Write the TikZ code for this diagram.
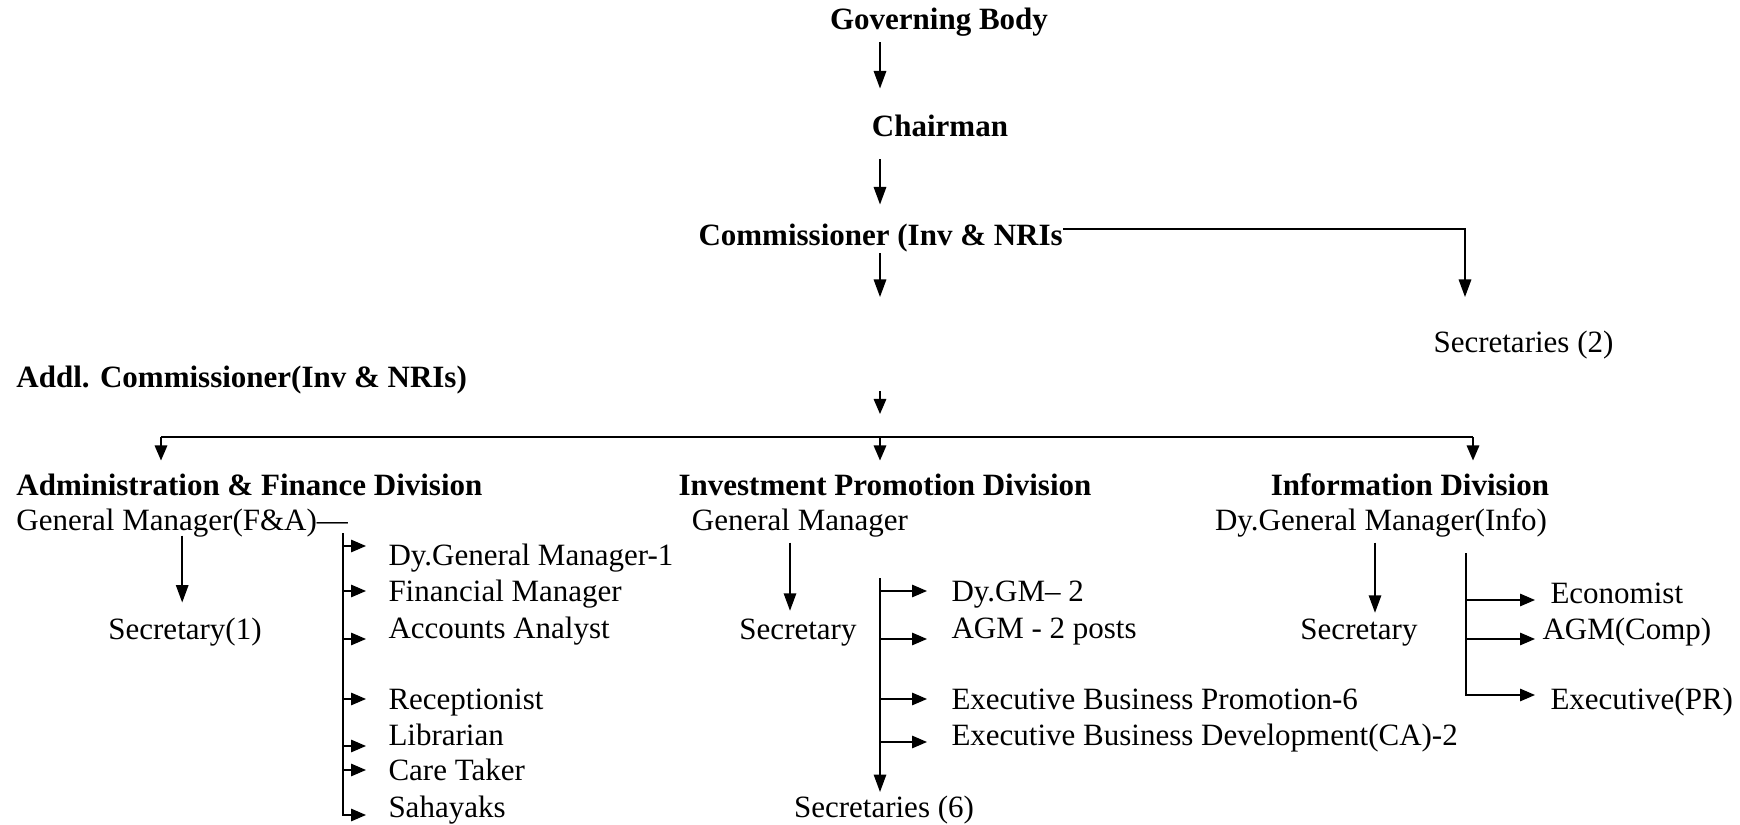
\documentclass[tikz,border=0pt]{standalone}
\usepackage{fontspec}
\setmainfont{Liberation Serif}
\usetikzlibrary{arrows.meta,positioning}

\tikzset{
  arr/.style={-{Triangle[length=7pt,width=5pt]}, line width=0.6pt},
  branch/.style={-{Triangle[length=6pt,width=5pt]}, line width=0.6pt},
  lbl/.style={inner sep=0pt, text height=9.5pt, text depth=1.5pt,
    font=\fontsize{12.4}{14}\selectfont},
  head/.style={lbl, font=\fontsize{12.4}{14}\selectfont\bfseries},
  item/.style={lbl, anchor=west},
}

\begin{document}
\begin{tikzpicture}[x=0.4pt, y=-0.4pt]
  \useasboundingbox (0,0) rectangle (1740,825);

  % top of the chart
  \node[head] (gb) at (939,20) {Governing Body};
  \node[head] (chair) at (940,127) {Chairman};
  \node[head, anchor=west] (comm) at (698,236) {Commissioner (Inv \& NRIs};
  \node[item] (sec2) at (1433,343) {Secretaries (2)};
  \node[head, anchor=west] (addl) at (16,378) {Addl. Commissioner(Inv \& NRIs)};

  \coordinate (spine) at (880,0);
  \coordinate (commend) at (880,297);
  \coordinate (sec2end) at (1465,297);
  \coordinate (addlin) at (880,391);
  \coordinate (addlout) at (880,414);
  \coordinate (busL) at (161,437);
  \coordinate (busM) at (880,437);
  \coordinate (busR) at (1473,437);

  \draw[arr, shorten <=3.3pt, shorten >=9.7pt] (spine |- gb.south) -- (spine |- chair.north);
  \draw[arr, shorten <=7.3pt, shorten >=6.9pt] (spine |- chair.south) -- (spine |- comm.north);
  \draw[arr, shorten <=1.3pt] (spine |- comm.south) -- (commend);
  \draw[arr] ([yshift=2.8pt]comm.east) -| (sec2end);
  \draw[branch] (addlin) -- (addlout);

  % divisions
  \node[head, anchor=west] (adm) at (16,485) {Administration \& Finance Division};
  \node[head] (ipd) at (885,485) {Investment Promotion Division};
  \node[head] (infd) at (1410,485) {Information Division};

  \draw[line width=0.6pt] (busL) -- (busR);
  \draw[branch, shorten >=4.1pt] (busL) -- (busL |- adm.north);
  \draw[branch, shorten >=4.1pt] (busM) -- (busM |- ipd.north);
  \draw[branch, shorten >=4.1pt] (busR) -- (busR |- infd.north);

  % administration & finance
  \node[item] (gmfa) at (16,520) {General Manager(F\&A)—};
  \node[lbl] (sec1) at (185,629) {Secretary(1)};
  \node[item] (dgm1) at (388,555) {Dy.General Manager-1};
  \node[item] (fin) at (388,591) {Financial Manager};
  \node[item] (acc) at (388,628) {Accounts Analyst};
  \node[item] (rec) at (388,699) {Receptionist};
  \node[item] (lib) at (388,735) {Librarian};
  \node[item] (care) at (388,770) {Care Taker};
  \node[item] (sah) at (388,807) {Sahayaks};
  \coordinate (busA) at (343,533);

  \draw[arr, shorten <=0.5pt, shorten >=4.9pt] (gmfa.south) -- (gmfa.south |- sec1.north);
  \draw[branch, shorten >=8.8pt] (busA) |- ([yshift=-3.2pt]sah.west);
  \draw[branch, shorten >=8.8pt] ([yshift=3.6pt]dgm1.west -| busA) -- ([yshift=3.6pt]dgm1.west);
  \draw[branch, shorten >=8.8pt] (fin.west -| busA) -- (fin.west);
  \draw[branch, shorten >=8.8pt] ([yshift=-4.4pt]acc.west -| busA) -- ([yshift=-4.4pt]acc.west);
  \draw[branch, shorten >=8.8pt] (rec.west -| busA) -- (rec.west);
  \draw[branch, shorten >=8.8pt] ([yshift=-4.4pt]lib.west -| busA) -- ([yshift=-4.4pt]lib.west);
  \draw[branch, shorten >=8.8pt] (care.west -| busA) -- (care.west);

  % investment promotion
  \node[lbl] (gmip) at (800,520) {General Manager};
  \node[lbl] (secip) at (798,629) {Secretary};
  \node[item] (dygm2) at (951,591) {Dy.GM– 2};
  \node[item] (agm) at (951,628) {AGM - 2 posts};
  \node[item] (ebp) at (951,699) {Executive Business Promotion-6};
  \node[item] (ebd) at (951,735) {Executive Business Development(CA)-2};
  \node[lbl] (sec6) at (884,807) {Secretaries (6)};
  \coordinate (busB) at (880,578);

  \draw[arr, shorten <=3.3pt, shorten >=1.6pt] ([xshift=-4pt]gmip.south) -- ([xshift=-4pt]gmip.south |- secip.north);
  \draw[arr, shorten >=0.3pt] (busB) -- (busB |- sec6.north);
  \draw[branch, shorten >=9.6pt] (dygm2.west -| busB) -- (dygm2.west);
  \draw[branch, shorten >=9.6pt] ([yshift=-4.4pt]agm.west -| busB) -- ([yshift=-4.4pt]agm.west);
  \draw[branch, shorten >=9.6pt] (ebp.west -| busB) -- (ebp.west);
  \draw[branch, shorten >=9.6pt] ([yshift=-2.8pt]ebd.west -| busB) -- ([yshift=-2.8pt]ebd.west);

  % information
  \node[lbl] (gminf) at (1381,520) {Dy.General Manager(Info)};
  \node[lbl] (secinf) at (1359,629) {Secretary};
  \node[item] (eco) at (1550,593) {Economist};
  \node[item] (agmc) at (1542,629) {AGM(Comp)};
  \node[item] (expr) at (1550,699) {Executive(PR)};
  \coordinate (busC) at (1466,553);

  \draw[arr, shorten <=3.3pt, shorten >=0.8pt] ([xshift=-2.4pt]gminf.south) -- ([xshift=-2.4pt]gminf.south |- secinf.north);
  \draw[branch, shorten >=6pt] (busC) |- ([yshift=1.6pt]expr.west);
  \draw[branch, shorten >=6pt] ([yshift=-2.8pt]eco.west -| busC) -- ([yshift=-2.8pt]eco.west);
  \draw[branch, shorten >=2.8pt] ([yshift=-4pt]agmc.west -| busC) -- ([yshift=-4pt]agmc.west);
\end{tikzpicture}
\end{document}
